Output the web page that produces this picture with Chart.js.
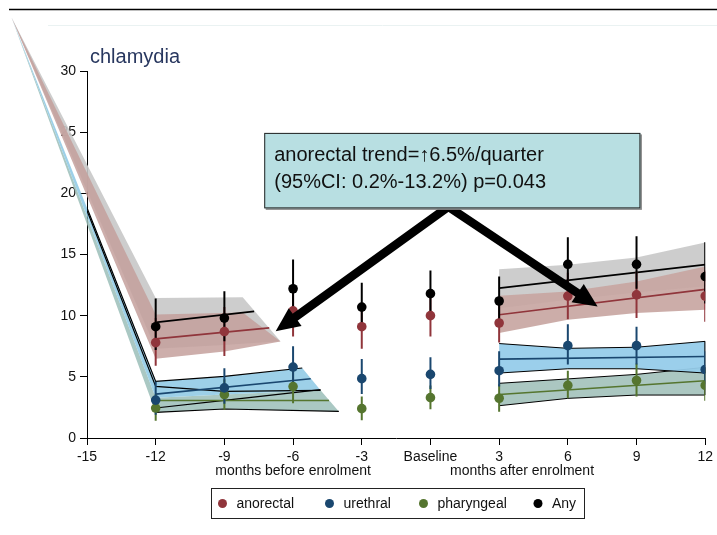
<!DOCTYPE html>
<html>
<head>
<meta charset="utf-8">
<script src="https://cdn.jsdelivr.net/npm/chart.js@4.4.1/dist/chart.umd.min.js"></script>
<style>
  html, body { margin: 0; padding: 0; background: #fff; }
</style>
</head>
<body>
<canvas id="chart" width="717" height="535"></canvas>
<script>
// months relative to enrolment (0 = Baseline)
const months = [-12, -9, -6, -3, 0, 3, 6, 9, 12];

// observed percentages with 95% CI
const anyPct = [9.1, 9.8, 12.2, 10.7, 11.8, 11.2, 14.2, 14.2, 13.2];
const anyHi  = [11.4, 12.0, 14.6, 12.7, 13.7, 13.2, 16.4, 16.5, 16.0];
const anyLo  = [7.2, 7.9, 10.1, 8.9, 10.0, 9.5, 12.2, 12.2, 11.0];

const anoPct = [7.8, 8.7, 10.4, 9.1, 10.0, 9.4, 11.6, 11.7, 11.6];
const anoHi  = [9.8, 10.7, 12.5, 10.9, 11.8, 11.1, 13.5, 13.6, 13.7];
const anoLo  = [5.9, 6.7, 8.3, 7.3, 8.3, 7.8, 9.7, 9.8, 9.5];

const uretPct = [3.1, 4.1, 5.8, 4.85, 5.2, 5.5, 7.55, 7.55, 5.6];
const uretHi  = [4.6, 5.7, 7.5, 6.45, 6.6, 7.1, 9.3, 9.1, 7.1];
const uretLo  = [1.9, 2.8, 4.4, 3.6, 4.0, 4.2, 6.0, 6.0, 4.4];

const pharPct = [2.45, 3.55, 4.2, 2.4, 3.3, 3.25, 4.3, 4.7, 4.3];
const pharHi  = [3.6, 4.8, 5.5, 3.4, 4.3, 4.4, 5.5, 6.1, 5.6];
const pharLo  = [1.4, 2.3, 2.85, 1.45, 2.35, 2.15, 3.25, 3.4, 3.05];

// fitted trends [month, %] - pre-enrolment bands start from an off-axis point
const farPoint = [-18.3, 34.4];

const anyPreUpper = [farPoint, [-12, 11.44], [-8.2, 11.5]];
const anyPreLower = [farPoint, [-12, 7.3], [-9, 7.6], [-6.55, 7.9]];
const anoPreUpper = [farPoint, [-12, 10.1], [-8.2, 10.25]];
const anoPreLower = [farPoint, [-12, 6.48], [-9, 7.08], [-6.55, 7.89]];
const uretPreUpper = [farPoint, [-12, 4.63], [-9, 5.03], [-5.6, 5.72]];
const uretPreLower = [farPoint, [-12, 3.3], [-9, 3.55], [-4.8, 3.9]];
const pharPreUpper = [farPoint, [-12, 3.3], [-9, 3.55], [-4.8, 3.9]];
const pharPreLower = [farPoint, [-12, 2.09], [-9, 2.37], [-4.0, 2.17]];
const preEdgeB = [farPoint, [-12, 4.22], [-9, 3.81], [-4.8, 3.89]];
const preEdgeC = [[-12, 2.45], [-9, 3.07], [-4.8, 3.95]];
const preEdgeD = [[-12, 2.09], [-9, 2.37], [-4.0, 2.17]];

const anyFitPre = [[-12, 9.45], [-7.7, 10.35]];
const anoFitPre = [[-12, 8.1], [-7.04, 9.0]];
const uretFitPre = [[-12, 3.59], [-5.23, 4.84]];
const pharFitPre = [[-12, 3.07], [-4.43, 3.07]];

const anyPostUpper = [[3, 13.8], [6, 14.16], [9, 14.76], [12, 15.98]];
const anyPostLower = [[3, 10.6], [6, 11.3], [9, 11.9], [12, 12.4]];
const anoPostUpper = [[3, 11.63], [6, 11.98], [9, 12.8], [12, 14.02]];
const anoPostLower = [[3, 8.58], [6, 9.66], [9, 10.21], [12, 10.48]];
const uretPostUpper = [[3, 7.72], [6, 7.33], [9, 7.42], [12, 7.9]];
const uretPostLower = [[3, 5.31], [6, 5.66], [9, 5.66], [12, 5.31]];
const pharPostUpper = [[3, 4.47], [6, 4.83], [9, 5.2], [12, 5.78]];
const pharPostLower = [[3, 2.64], [6, 3.24], [9, 3.51], [12, 3.51]];

const anyFitPost = [[3, 12.25], [12, 14.17]];
const anoFitPost = [[3, 10.07], [12, 12.15]];
const uretFitPost = [[3, 6.45], [12, 6.66]];
const pharFitPost = [[3, 3.56], [12, 4.68]];

const seriesNames = ['anorectal', 'urethral', 'pharyngeal', 'Any'];

const FONT = '"Liberation Sans", Arial, sans-serif';
const maroon = '#90353b', navy = '#1a476f', forest = '#55752f', black = '#000000';

function pts(pairs) {
    return pairs.map(p => ({ x: p[0], y: p[1] }));
}
function polygon(upper, lower) {
    return pts(upper.concat(lower.slice().reverse()));
}
function band(upper, lower, color, order, border) {
    return {
        data: polygon(upper, lower), fill: 'shape', backgroundColor: color,
        borderColor: border || 'rgba(0,0,0,0)', borderWidth: border ? 1 : 0.01,
        pointRadius: 0, order: order
    };
}
function line(pairs, color, order, width) {
    return { data: pts(pairs), fill: false, borderColor: color, borderWidth: width || 1.6, pointRadius: 0, order: order };
}
function errorBars(lo, hi, color) {
    const data = [];
    months.forEach((m, i) => {
        data.push({ x: m, y: lo[i] }, { x: m, y: hi[i] }, { x: m, y: null });
    });
    return { data, fill: false, borderColor: color, borderWidth: 2, pointRadius: 0, spanGaps: false, order: 20 };
}
function dots(values, color, order) {
    return {
        data: months.map((m, i) => ({ x: m, y: values[i] })), showLine: false,
        pointRadius: 4.8, pointBackgroundColor: color, pointBorderColor: color, pointBorderWidth: 0, order: order
    };
}

// let the pre-enrolment bands run outside the plot region, as in the original
const openArea = {
    id: 'openArea',
    beforeDatasetsDraw(chart) {
        chart.$area = chart.chartArea;
        chart.chartArea = { left: 0, top: 0, right: chart.width, bottom: chart.height, width: chart.width, height: chart.height };
    },
    afterDatasetsDraw(chart) {
        chart.chartArea = chart.$area;
    }
};

const decor = {
    id: 'decor',
    afterDraw(chart) {
        const c = chart.ctx, a = chart.chartArea;
        const px = v => chart.scales.x.getPixelForValue(v);
        const py = v => chart.scales.y.getPixelForValue(v);
        c.save();

        // outer frame line
        c.strokeStyle = '#000'; c.lineWidth = 1.5;
        c.beginPath(); c.moveTo(9, 9.5); c.lineTo(chart.width, 9.5); c.stroke();
        c.strokeStyle = '#eaf2f2'; c.lineWidth = 1;
        c.beginPath(); c.moveTo(48, 25.5); c.lineTo(chart.width, 25.5); c.stroke();

        // title
        c.fillStyle = '#28375f';
        c.font = '20px ' + FONT;
        c.textAlign = 'left'; c.textBaseline = 'alphabetic';
        c.fillText('chlamydia', a.left + 3, a.top - 8.5);

        // period labels under the axis
        c.fillStyle = '#111';
        c.font = '14px ' + FONT;
        c.textAlign = 'center'; c.textBaseline = 'middle';
        c.fillText('months before enrolment', px(-6), a.bottom + 33.5);
        c.fillText('months after enrolment', px(4), a.bottom + 33.5);

        // callout arrows
        const apex = [px(0.78), py(18.9)];
        const tips = [[px(-6.76), py(8.73)], [px(7.3), py(10.75)]];
        const headLen = 24, headHalf = 11;
        const shaft = tips.map(t => {
            const dx = t[0] - apex[0], dy = t[1] - apex[1], len = Math.hypot(dx, dy);
            return { t, ux: dx / len, uy: dy / len };
        });
        c.strokeStyle = '#000'; c.fillStyle = '#000';
        c.lineWidth = 8.5; c.lineJoin = 'miter'; c.miterLimit = 10; c.lineCap = 'butt';
        c.beginPath();
        c.moveTo(shaft[0].t[0] - shaft[0].ux * headLen * 0.8, shaft[0].t[1] - shaft[0].uy * headLen * 0.8);
        c.lineTo(apex[0], apex[1]);
        c.lineTo(shaft[1].t[0] - shaft[1].ux * headLen * 0.8, shaft[1].t[1] - shaft[1].uy * headLen * 0.8);
        c.stroke();
        shaft.forEach(s => {
            const bx = s.t[0] - s.ux * headLen, by = s.t[1] - s.uy * headLen;
            c.beginPath();
            c.moveTo(s.t[0], s.t[1]);
            c.lineTo(bx - s.uy * headHalf, by + s.ux * headHalf);
            c.lineTo(bx + s.uy * headHalf, by - s.ux * headHalf);
            c.closePath();
            c.fill();
        });

        // callout box
        const bx0 = px(-7.26), bx1 = px(9.17), by0 = py(24.94), by1 = py(18.77);
        c.fillStyle = '#8a8a8a';
        c.fillRect(bx0 + 1.5, by0 + 1.5, bx1 - bx0, by1 - by0);
        c.fillStyle = '#b8dfe2';
        c.fillRect(bx0, by0, bx1 - bx0, by1 - by0);
        c.strokeStyle = '#222'; c.lineWidth = 1;
        c.strokeRect(bx0 + 0.5, by0 + 0.5, bx1 - bx0 - 1, by1 - by0 - 1);
        c.fillStyle = '#111';
        c.font = '20px ' + FONT;
        c.textAlign = 'left'; c.textBaseline = 'alphabetic';
        c.fillText('anorectal trend=\u21916.5%/quarter', bx0 + 10, by0 + 28.5);
        c.fillText('(95%CI: 0.2%-13.2%) p=0.043', bx0 + 10, by0 + 55.5);

        // legend
        c.strokeStyle = '#222'; c.lineWidth = 1;
        c.strokeRect(211.5, 488.5, 373, 30);
        const colors = [maroon, navy, forest, black];
        const dotX = [222.5, 329.5, 423.5, 538];
        c.font = '14px ' + FONT;
        c.textBaseline = 'middle';
        seriesNames.forEach((name, i) => {
            c.fillStyle = colors[i];
            c.beginPath(); c.arc(dotX[i], 503.5, 4.5, 0, Math.PI * 2); c.fill();
            c.fillStyle = '#111';
            c.fillText(name, dotX[i] + 14, 504);
        });
        c.restore();
    }
};

const datasets = [
    // pre-enrolment bands
    band(anyPreUpper, anyPreLower, 'rgba(200,200,200,0.9)', 90),
    band(anoPreUpper, anoPreLower, 'rgba(196,160,156,0.85)', 89),
    band(pharPreUpper, pharPreLower, 'rgba(155,190,185,0.85)', 88),
    band(uretPreUpper, uretPreLower, 'rgba(140,200,228,0.85)', 87),
    // post-enrolment bands
    band(anyPostUpper, anyPostLower, 'rgba(200,200,200,0.9)', 90),
    band(anoPostUpper, anoPostLower, 'rgba(200,166,162,0.92)', 89),
    band(uretPostUpper, uretPostLower, 'rgba(150,204,234,0.95)', 87, '#000'),
    band(pharPostUpper, pharPostLower, 'rgba(166,196,190,0.95)', 88, '#000'),
    // black edges of the pre-enrolment bands
    line(uretPreUpper, '#000', 40, 1.2),
    line(preEdgeB, '#000', 40, 1.2),
    line(preEdgeC, '#000', 40, 1.2),
    line(preEdgeD, '#000', 40, 1.2),
    // fitted trends
    line(anyFitPre, black, 30), line(anoFitPre, maroon, 30),
    line(uretFitPre, navy, 30), line(pharFitPre, forest, 30),
    line(anyFitPost, black, 30), line(anoFitPost, maroon, 30),
    line(uretFitPost, navy, 30), line(pharFitPost, forest, 30),
    // 95% CI of observed values
    errorBars(anyLo, anyHi, black),
    errorBars(anoLo, anoHi, maroon),
    errorBars(uretLo, uretHi, navy),
    errorBars(pharLo, pharHi, forest),
    // observed values
    dots(pharPct, forest, 13),
    dots(uretPct, navy, 12),
    dots(anoPct, maroon, 11),
    dots(anyPct, black, 10)
];

new Chart(document.getElementById('chart'), {
    type: 'line',
    data: { datasets },
    plugins: [openArea, decor],
    options: {
        responsive: false,
        animation: false,
        events: [],
        layout: { padding: { left: 0, right: 8, top: 71, bottom: 0 } },
        plugins: { legend: { display: false }, tooltip: { enabled: false } },
        elements: { line: { tension: 0 } },
        scales: {
            x: {
                type: 'linear', min: -15, max: 12,
                afterFit: s => { s.height = 97; },
                ticks: {
                    stepSize: 3, padding: 4, color: '#111',
                    font: { family: FONT, size: 14 },
                    callback: v => (v === 0 ? 'Baseline' : String(v))
                },
                grid: { drawOnChartArea: false, drawTicks: true, tickLength: 7, color: '#000' },
                border: { display: true, color: '#000', width: 1 }
            },
            y: {
                type: 'linear', min: 0, max: 30,
                afterFit: s => { s.width = 87; },
                ticks: { stepSize: 5, padding: 4, color: '#111', font: { family: FONT, size: 14 } },
                grid: { drawOnChartArea: false, drawTicks: true, tickLength: 7, color: '#000' },
                border: { display: true, color: '#000', width: 1 }
            }
        }
    }
});
</script>
</body>
</html>
